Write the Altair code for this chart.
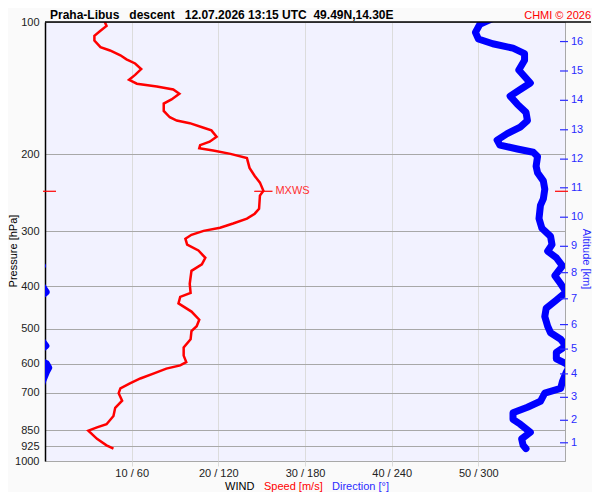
import altair as alt
import pandas as pd

FONT = "Liberation Sans"
RED = "#ff0000"
BLUE = "#0000ff"
TXT_BLUE = "#2b2bff"

TITLE = "Praha-Libus\u00a0\u00a0 descent\u00a0\u00a0 12.07.2026 13:15 UTC\u00a0 49.49N,14.30E"
COPY = "CHMI \u00a9 2026"

# pressure ticks (hPa) and x ticks (speed m/s; direction = speed*6)
p_ticks = [100, 200, 300, 400, 500, 600, 700, 850, 925, 1000]
x_ticks = [10, 20, 30, 40, 50]

# altitude axis: km and the pressure it sits at
alt_km = [1, 2, 3, 4, 5, 6, 7, 8, 9, 10, 11, 12, 13, 14, 15, 16]
alt_p = [908.9, 807.7, 716.1, 633.2, 556.0, 489.0, 427.1, 372.4, 324.3,
         278.4, 238.6, 205.3, 176.0, 150.8, 129.3, 110.8]

# wind speed profile
speed_p = [100, 102.1, 104.7, 107.5, 110.2, 114.1, 116.1, 119.1, 121.6, 124.3,
           128.0, 132.0, 135.4, 138.2, 140.2, 142.5, 145.7, 150.1, 153.4, 159.4,
           164.8, 167.7, 170.0, 174.1, 176.6, 182.6, 187.4, 190.8, 194.0, 196.3,
           199.7, 204.2, 215.0, 224.3, 232.2, 242.3, 248.6, 266.3, 273.3, 280.4,
           287.7, 294.1, 299.1, 305.3, 311.6, 321.4, 331.5, 344.4, 356.3, 368.8,
           394.8, 414.3, 422.8, 437.4, 456.7, 476.6, 493.3, 506.1, 528.1, 551.1,
           575.4, 595.3, 605.8, 616.1, 632.2, 648.6, 665.5, 683.0, 700.7, 728.9,
           756.7, 789.6, 824.4, 838.6, 853.0, 890.5, 921.0, 937.3]
speed_v = [6.9, 7.1, 6.4, 5.7, 5.7, 6.4, 7.5, 8.7, 9.4, 10.4,
           11.1, 10.4, 9.7, 10.6, 12.9, 14.8, 15.5, 14.6, 13.7, 13.7,
           14.4, 15.2, 16.7, 18.3, 19.2, 19.8, 19.0, 17.9, 17.8, 19.4,
           21.4, 23.3, 23.6, 24.2, 24.8, 25.2, 24.8, 24.7, 24.2, 23.3,
           21.7, 20.2, 18.3, 16.9, 16.2, 16.4, 17.7, 18.5, 18.1, 16.9,
           16.7, 16.8, 15.6, 15.4, 16.9, 17.8, 17.5, 16.9, 16.8, 16.0,
           16.0, 16.3, 15.6, 14.0, 12.5, 11.0, 9.8, 8.7, 8.5, 8.9,
           8.1, 7.9, 7.1, 6.0, 5.0, 6.0, 7.1, 7.9]

# wind direction profile (degrees, values above 360 wrap to the left edge)
dir_p = [98.5, 101.2, 105.6, 109.3, 112.1, 114.7, 118.0, 122.2, 128.6, 133.1,
         137.7, 142.5, 147.5, 153.9, 160.6, 167.7, 173.5, 179.6, 185.8, 190.8,
         194.7, 198.0, 202.4, 213.1, 220.5, 230.1, 240.3, 252.9, 261.6, 280.4,
         295.1, 307.9, 321.4, 332.7, 344.4, 359.4, 378.3, 394.8, 412.1, 430.0,
         448.7, 468.6, 493.3, 510.4, 528.1, 546.6, 565.4, 585.1, 600.5, 612.9,
         626.6, 659.6, 683.0, 700.7, 731.2, 754.1, 776.2, 803.5, 824.4, 860.4,
         890.5, 921.0, 937.3]
dir_v = [309, 301, 298, 300, 310, 324, 332, 332, 328, 332,
         336, 329, 322, 327, 333, 334, 329, 320, 313, 315,
         327, 338, 341, 340, 341, 345, 346, 345, 343, 342,
         344, 350, 351, 348, 354, 358.2, 353, 357, 360.8, 354,
         347, 346, 348, 350, 357, 360.6, 354, 354, 361, 362.6,
         361, 358.2, 357, 346, 343, 334, 324, 324, 329, 336,
         330, 331, 333]

# maximum wind
mxws_p = [243.0]
mxws_v = [25.2]

W, H = 520, 439

yscale = alt.Scale(type="log", domain=[100, 1000], reverse=True, nice=False)
xscale = alt.Scale(domain=[0, 60], nice=False, zero=True)

speed_df = pd.DataFrame({"p": speed_p, "v": speed_v, "i": list(range(len(speed_p)))})
dir_df = pd.DataFrame({"p": dir_p, "d": dir_v, "i": list(range(len(dir_p)))})
alt_df = pd.DataFrame({"p": alt_p, "km": [str(k) for k in alt_km]})
mx_df = pd.DataFrame({"p": mxws_p, "v": mxws_v})
one = pd.DataFrame({"k": [0]})

x_axis = alt.Axis(values=x_ticks, labelExpr="datum.value + ' / ' + datum.value*6",
                  grid=True, gridColor="#dcdcdc", tickColor="#dcdcdc", tickSize=5,
                  domain=False, labelPadding=1, labelFontSize=11, labelColor="#222222",
                  labelFont=FONT, labelFlush=False, title=None, orient="bottom")
y_axis = alt.Axis(values=p_ticks, orient="left", grid=True, gridColor="#a8a8a8",
                  ticks=False, domain=True, domainColor="#000000", domainWidth=1.5,
                  labelPadding=6, labelFontSize=11, labelColor="#222222",
                  labelFont=FONT, format="d", title=None)

Y = alt.Y("p:Q", scale=yscale, axis=None)

speed_line = alt.Chart(speed_df).mark_line(
    color=RED, strokeWidth=2.5, clip=True
).encode(
    x=alt.X("v:Q", scale=xscale, axis=x_axis),
    y=alt.Y("p:Q", scale=yscale, axis=y_axis),
    order="i:Q",
)

dir_main = alt.Chart(dir_df).transform_calculate(xd="datum.d/6").mark_line(
    color=BLUE, strokeWidth=7, strokeCap="round", strokeJoin="round", clip=True
).encode(
    x=alt.X("xd:Q", scale=xscale, axis=None), y=Y, order="i:Q",
)
dir_wrap = alt.Chart(dir_df).transform_calculate(xd="datum.d/6 - 60").mark_line(
    color=BLUE, strokeWidth=7, strokeCap="round", strokeJoin="round", clip=True
).encode(
    x=alt.X("xd:Q", scale=xscale, axis=None), y=Y, order="i:Q",
)

# altitude scale on the right edge (ticks + labels placed by pressure)
alt_ticks = alt.Chart(alt_df).mark_rule(color=TXT_BLUE, strokeWidth=1.2).encode(
    x=alt.value(515), x2=alt.value(523), y=Y
)
alt_labels = alt.Chart(alt_df).mark_text(
    color=TXT_BLUE, align="left", baseline="middle", fontSize=11, font=FONT
).encode(x=alt.value(526), y=Y, text="km:N")

mx_rule = alt.Chart(mx_df).transform_calculate(
    a="datum.v - 1.05", b="datum.v + 1.05"
).mark_rule(color=RED, strokeWidth=1.2).encode(
    x=alt.X("a:Q", scale=xscale, axis=None), x2="b:Q", y=Y,
)
mx_text = alt.Chart(mx_df).mark_text(
    text="MXWS", color="#ff3030", align="left", baseline="middle", dx=12,
    fontSize=11, font=FONT
).encode(x=alt.X("v:Q", scale=xscale, axis=None), y=Y)
mx_left = alt.Chart(mx_df).mark_rule(color=RED, strokeWidth=1.2).encode(
    x=alt.value(-2), x2=alt.value(11), y=Y
)
mx_right = alt.Chart(mx_df).mark_rule(color=RED, strokeWidth=1.2).encode(
    x=alt.value(510), x2=alt.value(523), y=Y
)

top_line = alt.Chart(one).mark_rule(color="#000000", strokeWidth=1.5).encode(
    x=alt.value(0), x2=alt.value(546), y=alt.value(0)
)


def label(text, x, y, color="#000000", size=11, weight="normal", align="left",
          angle=0, baseline="alphabetic"):
    return alt.Chart(one).mark_text(
        text=text, color=color, fontSize=size, fontWeight=weight, align=align,
        baseline=baseline, angle=angle, font=FONT
    ).encode(x=alt.value(x), y=alt.value(y))


title_t = label(TITLE, 5, -3, size=12, weight="bold")
copy_t = label(COPY, 546, -3, color=RED, align="right")
wind_t = label("WIND", 180, 468)
speed_t = label("Speed [m/s]", 219, 468, color=RED)
dir_t = label("Direction [\u00b0]", 287, 468, color=TXT_BLUE)
pres_t = label("Pressure [hPa]", -31, 229, angle=270, align="center", baseline="middle")
alti_t = label("Altitude [km]", 541, 237, color=TXT_BLUE, angle=90, align="center",
               baseline="middle")

chart = alt.layer(
    speed_line, dir_main, dir_wrap, alt_ticks, alt_labels, mx_rule, mx_text,
    mx_left, mx_right, top_line, title_t, copy_t, wind_t, speed_t, dir_t,
    pres_t, alti_t
).resolve_axis(x="independent", y="independent").properties(
    width=W, height=H,
    padding={"left": 37, "top": 14, "right": 27, "bottom": 31},
    autosize=alt.AutoSizeParams(type="none"),
    background="#fafafa",
).configure_view(fill="#f2f2ff", stroke="#a8a8a8", strokeWidth=1)

chart.save("out.html", embed_options={"renderer": "svg", "actions": False})
